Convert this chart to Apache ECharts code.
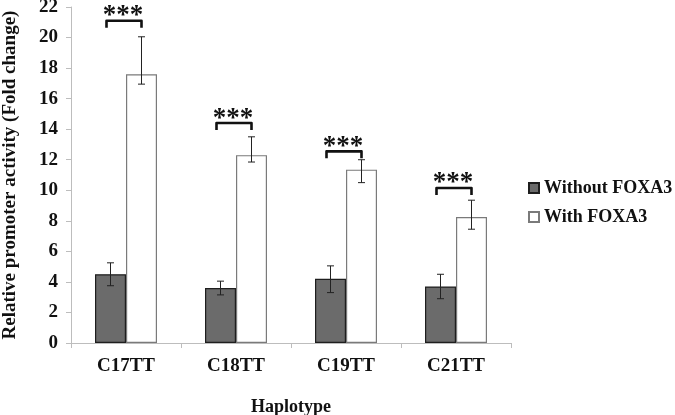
<!DOCTYPE html>
<html>
<head>
<meta charset="utf-8">
<script src="https://cdn.jsdelivr.net/npm/echarts@6/dist/echarts.min.js"></script>
<style>html,body{margin:0;padding:0;background:#fff}#c{width:675px;height:415px}</style>
</head>
<body>
<div id="c"></div>
<script>
var categories = ['C17TT', 'C18TT', 'C19TT', 'C21TT'];
var withoutFoxa3 = [4.5, 3.6, 4.2, 3.7];
var withoutLow = [3.75, 3.15, 3.3, 2.9];
var withoutHigh = [5.25, 4.05, 5.05, 4.5];
var withFoxa3 = [17.6, 12.3, 11.35, 8.25];
var withLow = [16.95, 11.85, 10.5, 7.45];
var withHigh = [20.05, 13.5, 12.0, 9.35];
var bracketHeights = [21.1, 14.4, 12.55, 10.15];
var sigLabels = ['***', '***', '***', '***'];

var FONT = '"Liberation Serif", "Times New Roman", serif';
var BAR_W = 31;

function errData(low, high) {
  return categories.map(function (c, i) { return [i, low[i], high[i]]; });
}
function errRender(offset) {
  return function (params, api) {
    var i = api.value(0);
    var pLo = api.coord([i, api.value(1)]);
    var pHi = api.coord([i, api.value(2)]);
    var x = pLo[0] + offset;
    var cap = 3.5;
    var st = { stroke: '#222', lineWidth: 1, fill: null };
    return {
      type: 'group',
      children: [
        { type: 'line', shape: { x1: x, y1: pLo[1], x2: x, y2: pHi[1] }, style: st },
        { type: 'line', shape: { x1: x - cap, y1: pLo[1], x2: x + cap, y2: pLo[1] }, style: st },
        { type: 'line', shape: { x1: x - cap, y1: pHi[1], x2: x + cap, y2: pHi[1] }, style: st }
      ]
    };
  };
}

var chart = echarts.init(document.getElementById('c'), null, { renderer: 'canvas' });
chart.setOption({
  animation: false,
  backgroundColor: '#fff',
  textStyle: { fontFamily: FONT },
  grid: { left: 71, right: 164, top: 7, bottom: 72, containLabel: false, outerBoundsMode: 'none' },
  legend: {
    orient: 'vertical',
    left: 523,
    top: 174,
    itemWidth: 10,
    itemHeight: 10,
    itemGap: 11,
    icon: 'rect',
    textStyle: { fontFamily: FONT, fontWeight: 'bold', fontSize: 18, color: '#111' },
    data: ['Without FOXA3', 'With FOXA3']
  },
  xAxis: {
    type: 'category',
    data: categories,
    name: 'Haplotype',
    nameLocation: 'middle',
    nameGap: 55,
    nameMoveOverlap: false,
    nameTextStyle: { fontFamily: FONT, fontWeight: 'bold', fontSize: 18, color: '#111' },
    axisLine: { lineStyle: { color: '#bdbdbd', width: 1 } },
    axisTick: { show: true, length: 5, lineStyle: { color: '#bdbdbd' } },
    axisLabel: { fontFamily: FONT, fontWeight: 'bold', fontSize: 19, color: '#111', margin: 14 }
  },
  yAxis: {
    type: 'value',
    min: 0,
    max: 22,
    interval: 2,
    name: 'Relative promoter activity (Fold change)',
    nameLocation: 'middle',
    nameGap: 51,
    nameMoveOverlap: false,
    nameTextStyle: { fontFamily: FONT, fontWeight: 'bold', fontSize: 19, color: '#111' },
    splitLine: { show: false },
    axisLine: { show: true, lineStyle: { color: '#bdbdbd', width: 1 } },
    axisTick: { show: true, length: 5, lineStyle: { color: '#bdbdbd' } },
    axisLabel: { fontFamily: FONT, fontWeight: 'bold', fontSize: 19, color: '#111', margin: 13 }
  },
  series: [
    {
      name: 'Without FOXA3',
      type: 'bar',
      barWidth: BAR_W,
      barGap: '0%',
      data: withoutFoxa3,
      itemStyle: { color: '#6b6b6b', borderColor: '#1e1e1e', borderWidth: 1.2 }
    },
    {
      name: 'With FOXA3',
      type: 'bar',
      barWidth: BAR_W,
      barGap: '0%',
      data: withFoxa3,
      itemStyle: { color: '#ffffff', borderColor: '#7a7a7a', borderWidth: 1.2 }
    },
    {
      type: 'custom',
      renderItem: errRender(-BAR_W / 2),
      data: errData(withoutLow, withoutHigh),
      z: 5
    },
    {
      type: 'custom',
      renderItem: errRender(BAR_W / 2),
      data: errData(withLow, withHigh),
      z: 5
    },
    {
      type: 'custom',
      data: categories.map(function (c, i) { return [i, bracketHeights[i]]; }),
      z: 6,
      renderItem: function (params, api) {
        var i = api.value(0);
        var p = api.coord([i, api.value(1)]);
        var xl = p[0] - BAR_W / 2 - 4;
        var xr = p[0] + BAR_W / 2;
        var y = p[1];
        var leg = 7;
        return {
          type: 'group',
          children: [
            { type: 'polyline', shape: { points: [[xl, y + leg], [xl, y], [xr, y], [xr, y + leg]] },
              style: { stroke: '#111', lineWidth: 2.6, fill: null, lineJoin: 'round' } },
            { type: 'text', style: { text: sigLabels[params.dataIndex], x: (xl + xr) / 2 - 1, y: y + 9,
              align: 'center', verticalAlign: 'bottom', fill: '#111',
              font: 'bold 27px ' + FONT } }
          ]
        };
      }
    }
  ]
});
</script>
</body>
</html>
